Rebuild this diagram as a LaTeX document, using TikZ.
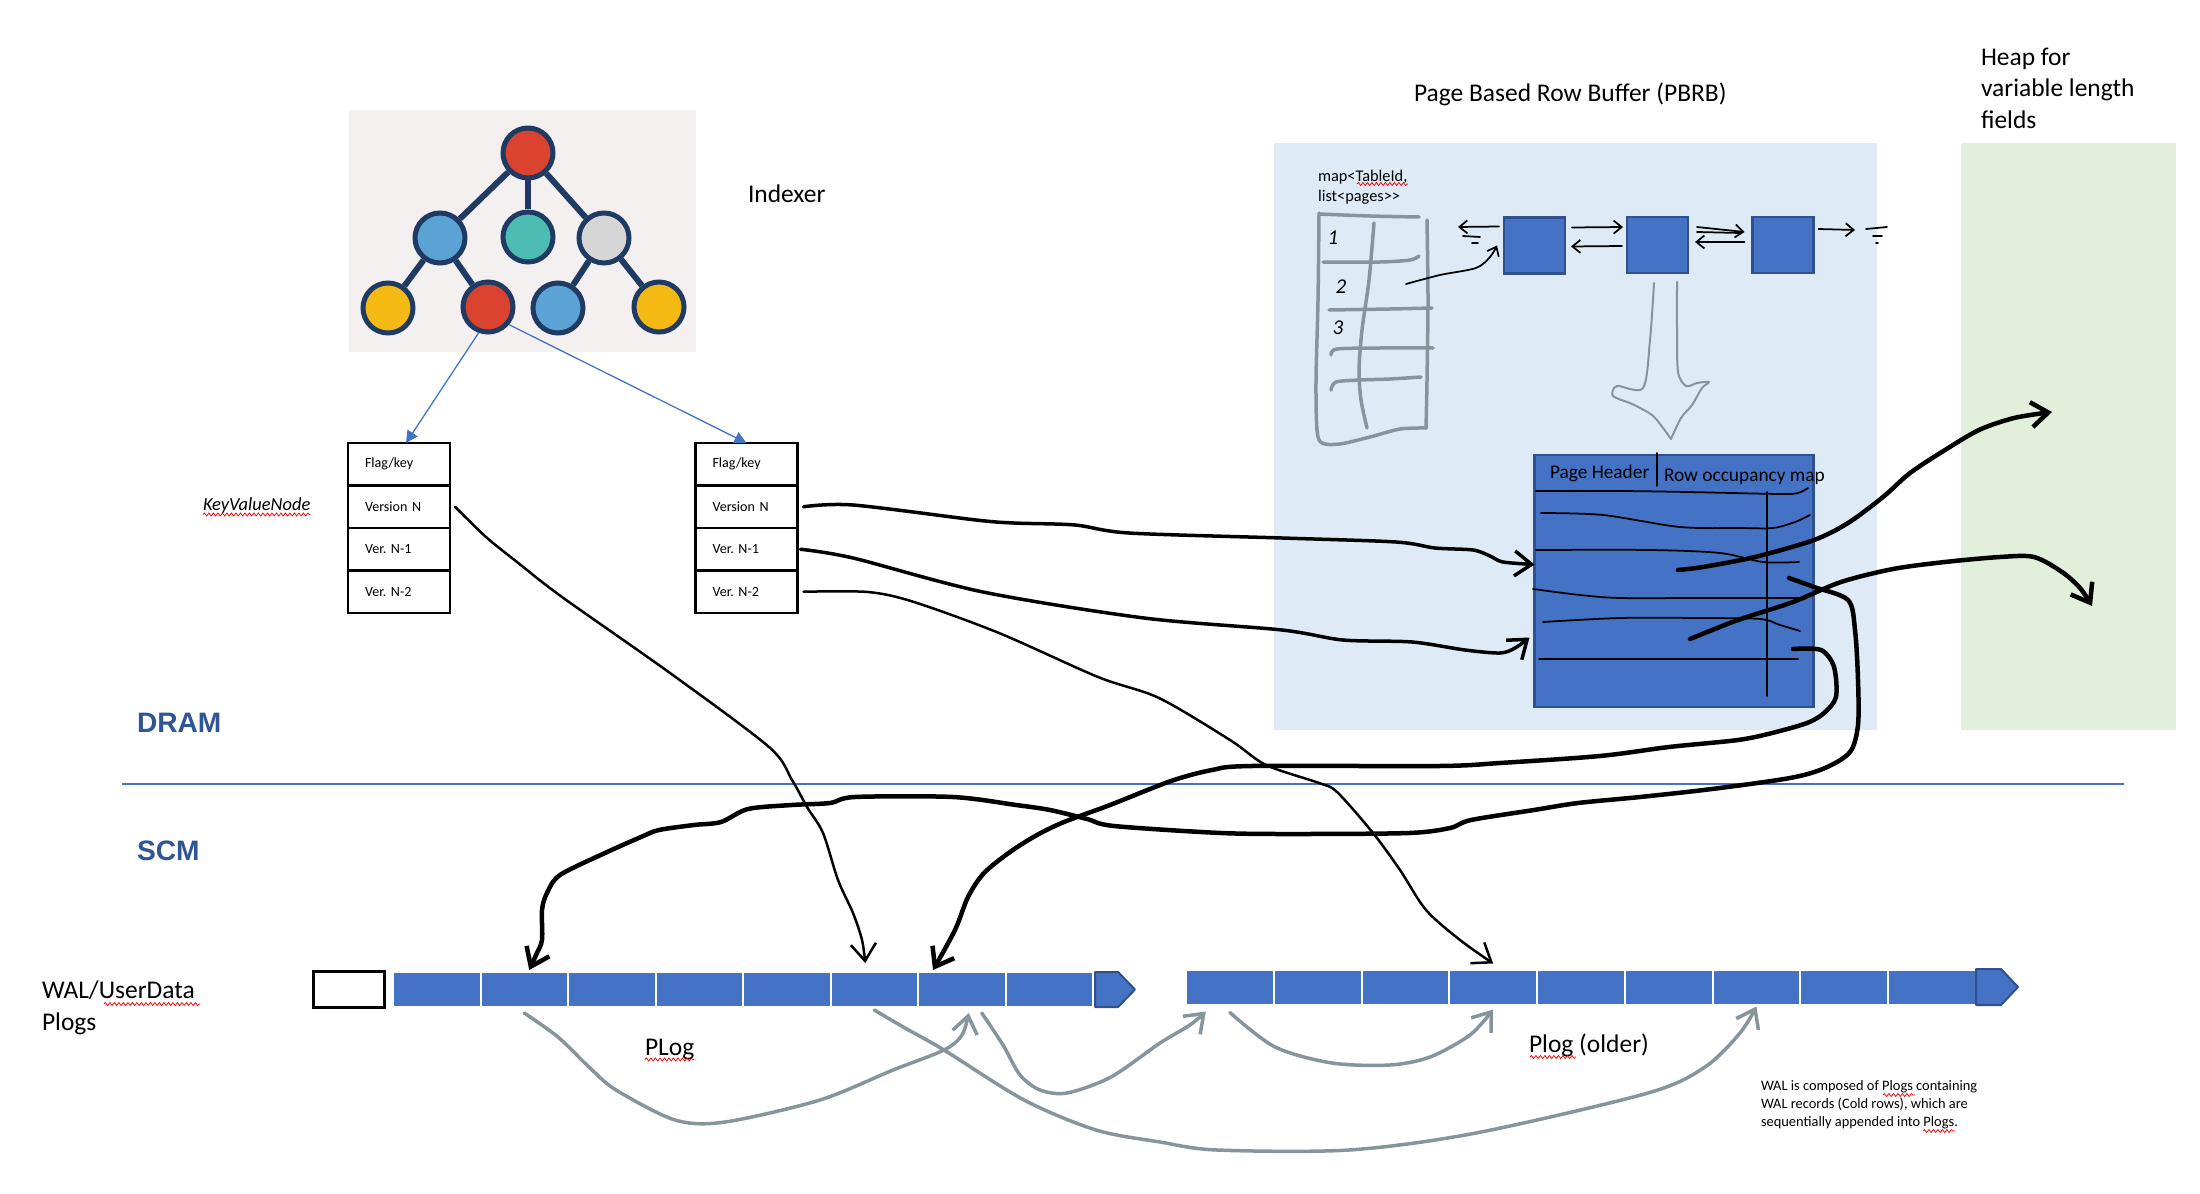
\documentclass[tikz,border=0pt]{standalone}
\usepackage{fontspec}
\setmainfont{Carlito}
\newfontfamily\bandsans{Liberation Sans}
\usetikzlibrary{arrows.meta,positioning,calc,decorations.pathmorphing}
\frenchspacing

\definecolor{cellblue}{HTML}{4472C4}
\definecolor{edgeblue}{HTML}{2F528F}
\definecolor{bandblue}{HTML}{2F5597}
\definecolor{pbrbbg}{HTML}{DEEBF7}
\definecolor{heapbg}{HTML}{E2EFDA}
\definecolor{treebg}{HTML}{F3F0EF}
\definecolor{treenavy}{HTML}{1F3B63}
\definecolor{treered}{HTML}{D9432F}
\definecolor{treeblue}{HTML}{5BA3D5}
\definecolor{treeteal}{HTML}{4DBDB3}
\definecolor{treegray}{HTML}{D6D6D6}
\definecolor{treeyellow}{HTML}{F5B914}
\definecolor{pengray}{HTML}{86959C}

\newcommand\bigfont{\fontsize{14.5}{17.9}\selectfont}
\newcommand\kvfont{\fontsize{8}{9.6}\selectfont}
\newcommand\notefont{\fontsize{8.2}{10.25}\selectfont}
\newcommand\mapfont{\fontsize{9.3}{11.4}\selectfont}
\newcommand\pagefont{\fontsize{11}{13}\selectfont}
\newcommand\bandfont{\bandsans\bfseries\fontsize{16}{19}\selectfont}

\tikzset{
  region/.style={inner sep=0,outer sep=0},
  txt/.style={inner sep=0,outer sep=0},
  tnode/.style={circle,draw=treenavy,line width=1mm,minimum size=10mm,inner sep=0},
  tedge/.style={treenavy,line width=1.2mm},
  idxptr/.style={cellblue,line width=0.26mm,-{Triangle[length=2.4mm,width=2.4mm]}},
  kvrow/.style={draw,line width=0.5mm,outer sep=0,minimum height=8.5mm,text width=13.6mm,inner xsep=3.4mm,align=left,font=\kvfont},
  cell/.style={fill=cellblue,draw=white,line width=0.4mm,inner sep=0,outer sep=0,minimum height=7mm},
  pagebox/.style={fill=cellblue,draw=edgeblue,line width=0.5mm,inner sep=0,outer sep=0},
  chevron/.style={fill=cellblue,draw=edgeblue,line width=0.4mm,line join=round},
  ink/.style={line width=0.9mm,line cap=round,line join=round},
  inkmid/.style={line width=0.7mm,line cap=round,line join=round},
  inkthin/.style={line width=0.5mm,line cap=round,line join=round},
  pen/.style={line width=0.35mm,line cap=round,line join=round},
  pencil/.style={pengray,line width=0.7mm,line cap=round,line join=round},
  barb/.style={-{Straight Barb[length=3.4mm,width=5mm]}},
  smallbarb/.style={-{Straight Barb[length=1.6mm,width=2.6mm]}},
  divider/.style={cellblue,line width=0.3mm},
  spell/.style={red,line width=0.15mm,decorate,decoration={snake,amplitude=0.3mm,segment length=0.9mm}},
}

\begin{document}
\begin{tikzpicture}[x=0.2mm,y=-0.2mm]
  \useasboundingbox (0,0) rectangle (2200,1194);

  % backgrounds
  \node[region,fill=pbrbbg,minimum width=120.6mm,minimum height=117.4mm] (pbrb) at (1575.5,436.5) {};
  \node[region,fill=heapbg,minimum width=43mm,minimum height=117.4mm] (heap) at (2068.5,436.5) {};
  \node[region,fill=treebg,minimum width=69.4mm,minimum height=48.4mm] (treepic) at (522.5,231) {};

  \coordinate (dl) at (122,784);
  \coordinate (dr) at (2124,784);
  \draw[divider] (dl) -- (dr);

  % indexer tree
  \node[tnode,fill=treered] (root) at (528,153) {};
  \node[tnode,fill=treeblue] (nA) at (440,238) {};
  \node[tnode,fill=treeteal] (nB) at (528,237) {};
  \node[tnode,fill=treegray] (nC) at (604,238) {};
  \node[tnode,fill=treeyellow] (lA) at (388,308) {};
  \node[tnode,fill=treered] (lB) at (488,307) {};
  \node[tnode,fill=treeblue] (lC) at (558,308) {};
  \node[tnode,fill=treeyellow] (lD) at (659,307) {};
  \foreach \a/\b in {root/nA,root/nB,root/nC,nA/lA,nA/lB,nC/lC,nC/lD}
    \draw[tedge] (\a) -- (\b);

  % key value nodes
  \foreach \t [count=\i from 0] in {Flag/key,Version N,Ver. N-1,Ver. N-2} {
    \node[kvrow] (kv1-\i) at (399,{464.25+42.5*\i}) {\t};
    \node[kvrow] (kv2-\i) at (746.5,{464.25+42.5*\i}) {\t};
  }
  \draw[idxptr] (lB.250) -- ([xshift=1.4mm]kv1-0.north);
  \draw[idxptr] (lB.-40) -- (kv2-0.north);

  % labels
  \node[txt,font=\bigfont,anchor=base west] (indexer) at (748,203) {Indexer};
  \node[txt,font=\fontsize{10.5}{12}\selectfont\itshape,anchor=base west] (kvlabel) at (203,510) {KeyValueNode};
  \draw[spell] ([yshift=-0.9mm]kvlabel.base west) -- ([yshift=-0.9mm]kvlabel.base east);
  \node[txt,font=\bigfont,anchor=base west] (pbrbtitle) at (1414,102) {Page Based Row Buffer (PBRB)};
  \node[txt,font=\bigfont,anchor=west,align=left] (heaptitle) at (1981,88) {Heap for\\variable length\\fields};
  \node[txt,font=\bandfont,text=bandblue,anchor=base west] (dram) at (137,732) {DRAM};
  \node[txt,font=\bandfont,text=bandblue,anchor=base west] (scm) at (137,860) {SCM};
  \node[txt,font=\bigfont,anchor=west,align=left] (wallabel) at (42,1008) {WAL/UserData\\Plogs};
  \draw[spell] (104,1004) -- (200,1004);
  \node[txt,font=\bigfont,anchor=base west] (plogA) at (645,1055) {PLog};
  \draw[spell] ([yshift=-0.9mm]plogA.base west) -- ([yshift=-0.9mm]plogA.base east);
  \node[txt,font=\bigfont,anchor=base west] (plogB) at (1529,1052) {Plog (older)};
  \draw[spell] (1530,1057) -- (1576,1057);
  \node[txt,font=\notefont,anchor=west,align=left] (note) at (1761,1105)
    {WAL is composed of Plogs containing\\WAL records (Cold rows), which are\\sequentially appended into Plogs.};
  \draw[spell] (1883,1095) -- (1915,1095);
  \draw[spell] (1923,1131) -- (1955,1131);

  % plogs
  \node[draw,line width=0.6mm,minimum width=14.2mm,minimum height=7.2mm,inner sep=0] (walhead) at (348.5,989) {};
  \foreach \i in {1,...,8}
    \node[cell,minimum width=17.5mm] (pa\i) at ({393+87.5*(\i-0.5)},989.5) {};
  \foreach \i in {1,...,9}
    \node[cell,minimum width=17.55mm] (pb\i) at ({1186+87.75*(\i-0.5)},987) {};
  \filldraw[chevron] (1095,972) -- (1118,972) -- (1135,989.5) -- (1118,1007) -- (1095,1007) -- cycle;
  \filldraw[chevron] (1976,969) -- (2001,969) -- (2018,987) -- (2001,1005) -- (1976,1005) -- cycle;

  % PBRB: map of page lists
  \node[txt,font=\mapfont,anchor=west,align=left] (maplabel) at (1318,187) {map<TableId,\\list<pages>{}>};
  \draw[spell] (1357,184) -- (1408,184);
  \draw[pencil] plot[smooth] coordinates {(1419,217) (1370,216) (1319,214)};
  \draw[pencil] plot[smooth] coordinates {(1319,213) (1318,300) (1316,380) (1317,430) (1322,443) (1340,444) (1370,437) (1400,429) (1426,428)};
  \draw[pencil] plot[smooth] coordinates {(1427,220) (1428,300) (1427,380) (1426,428)};
  \draw[pencil] plot[smooth] coordinates {(1374,223) (1369,280) (1362,330) (1359,370) (1361,400) (1367,428)};
  \draw[pencil] plot[smooth] coordinates {(1323,262) (1380,262) (1410,260) (1419,256)};
  \draw[pencil] plot[smooth] coordinates {(1329,310) (1390,309) (1432,308)};
  \draw[pencil] plot[smooth] coordinates {(1331,355) (1337,349) (1380,348) (1433,348)};
  \draw[pencil] plot[smooth] coordinates {(1331,390) (1336,382) (1360,380) (1390,379) (1421,377)};
  \node[txt,font=\fontsize{12}{14}\selectfont\itshape] (row1) at (1333,238) {1};
  \node[txt,font=\fontsize{12}{14}\selectfont\itshape] (row2) at (1341,287) {2};
  \node[txt,font=\fontsize{12}{14}\selectfont\itshape] (row3) at (1338,328) {3};

  \node[pagebox,minimum width=12.2mm,minimum height=11.2mm] (pg1) at (1534.5,245.5) {};
  \node[pagebox,minimum width=12.2mm,minimum height=11.2mm] (pg2) at (1657.5,245) {};
  \node[pagebox,minimum width=12.2mm,minimum height=11.2mm] (pg3) at (1783,245) {};

  \coordinate (tabRow2) at (1406,284);
  \coordinate (nilL) at (1458,227);
  \coordinate (nilR) at (1855,230);
  \draw[pen,smallbarb] plot[smooth] coordinates {(tabRow2) (1440,275) (1476,268) (1490,257) ([xshift=-1.4mm]pg1.west)};
  \draw[pen,smallbarb] ([xshift=-1mm,yshift=3.8mm]pg1.west) -- (nilL);
  \draw[pen] (1463,236) -- (1480,237) (1472,243) -- (1478,243);
  \draw[pen,smallbarb] ([xshift=1.4mm,yshift=3.6mm]pg1.east) -- ([xshift=-0.8mm,yshift=3.6mm]pg2.west);
  \draw[pen,smallbarb] ([xshift=-1mm,yshift=-0.2mm]pg2.west) -- ([xshift=1.2mm,yshift=-0.2mm]pg1.east);
  \draw[pen,smallbarb] ([xshift=1.8mm,yshift=3.6mm]pg2.east) -- ([xshift=-1.6mm,yshift=2.6mm]pg3.west);
  \draw[pen] ([xshift=1.8mm,yshift=2.6mm]pg2.east) -- ([xshift=-2.4mm,yshift=2.4mm]pg3.west);
  \draw[pen,smallbarb] ([xshift=-1.6mm,yshift=0.6mm]pg3.west) -- ([xshift=1.4mm,yshift=0.6mm]pg2.east);
  \draw[pen,smallbarb] ([xshift=1mm,yshift=3.2mm]pg3.east) -- (nilR);
  \draw[pen] (1866,229) -- (1887,227) (1873,236) -- (1882,236) (1876,243) -- (1878,243);

  % grey hand drawn arrow down to the page
  \draw[pencil,line width=0.4mm] plot[smooth] coordinates {(1654,283) (1650,340) (1643,388) (1617,386) (1613,396) (1632,404) (1652,415) (1663,428) (1671,439)};
  \draw[pencil,line width=0.4mm] plot[smooth] coordinates {(1671,439) (1681,418) (1692,405) (1702,388) (1709,382) (1697,383) (1686,386) (1678,372) (1677,330) (1677,282)};

  % the page
  \node[pagebox,minimum width=55.8mm,minimum height=50.4mm] (page) at (1674,581) {};
  \node[txt,font=\pagefont,anchor=base west] (pghdr) at (1550,478) {Page Header};
  \node[txt,font=\pagefont,anchor=base west] (occmap) at (1664,481) {Row occupancy map};
  \draw[pen] (1657,453) -- (1657,486);
  \draw[pen] plot[smooth] coordinates {(1536,491) (1620,491) (1687,492) (1780,494) (1798,493) (1808,488)};
  \draw[pen] plot[smooth] coordinates {(1541,513) (1603,515) (1680,527) (1740,528) (1773,528) (1795,522) (1810,515)};
  \draw[pen] plot[smooth] coordinates {(1536,550) (1650,550) (1720,553) (1763,562) (1799,562)};
  \draw[pen] plot[smooth] coordinates {(1533,589) (1580,595) (1620,598) (1700,598) (1799,598)};
  \draw[pen] plot[smooth] coordinates {(1543,622) (1620,618) (1700,618) (1760,619) (1780,625) (1800,631)};
  \draw[pen] (1539,659) -- (1798,659);
  \draw[pen] (1767,492) -- (1767,696);

  % pointers from the version chains
  \coordinate (dFrom) at ([xshift=1mm]kv1-1.east);
  \coordinate (dTo) at ([xshift=-1.8mm,yshift=1.8mm]pa6.north);
  \draw[inkthin,barb] plot[smooth] coordinates {(dFrom) (486,537) (517,562) (562,597) (670,673) (769,747) (792,780) (807,807) (823,833) (838,880) (853,913) (862,940) (dTo)};

  \coordinate (eFrom) at ([xshift=1.2mm]kv2-1.east);
  \coordinate (eTo) at ([yshift=3.3mm]page.west);
  \draw[inkmid,barb] plot[smooth] coordinates {(eFrom) (853,505) (976,520) (1014,523) (1075,525) (1129,533) (1282,538) (1396,542) (1435,548) (1473,550) (1490,556) (1503,562) (eTo)};

  \coordinate (fFrom) at ([xshift=0.6mm]kv2-2.east);
  \coordinate (fTo) at ([xshift=-1mm,yshift=-11.3mm]page.west);
  \draw[inkmid,barb] plot[smooth] coordinates {(fFrom) (853,558) (983,592) (1144,618) (1282,630) (1343,640) (1412,642) (1465,650) (1500,653) (1515,648) (fTo)};

  \coordinate (gFrom) at ([xshift=1.2mm]kv2-3.east);
  \coordinate (gTo) at ([yshift=1.2mm]pb4.north);
  \draw[inkthin,barb] plot[smooth] coordinates {(gFrom) (868,592) (914,602) (999,633) (1098,677) (1159,698) (1230,740) (1266,765) (1319,783) (1337,792) (1373,833) (1400,870) (1426,910) (1460,940) (gTo)};

  % pointers from the page rows
  \coordinate (rowA) at (1678,570);
  \coordinate (heapA) at (2052,412);
  \draw[ink,barb] plot[smooth] coordinates {(rowA) (1703,567) (1755,557) (1814,540) (1848,523) (1883,497) (1910,473) (1945,450) (1979,430) (2014,418) (heapA)};

  \coordinate (rowD) at (1690,639);
  \coordinate (heapB) at (2092,606);
  \draw[ink,barb] plot[smooth] coordinates {(rowD) (1738,620) (1793,602) (1841,582) (1893,569) (1945,562) (2000,557) (2034,557) (2062,572) (2080,588) (heapB)};

  \coordinate (rowB) at (1789,578);
  \coordinate (pa2top) at ([xshift=1mm,yshift=0.4mm]pa2.north);
  \draw[ink,barb] plot[smooth] coordinates {(rowB) (1814,587) (1848,600) (1855,630) (1858,680) (1858,725) (1850,752) (1825,768) (1790,778) (1712,789) (1640,797) (1578,803) (1534,810) (1471,820) (1450,828) (1409,833) (1300,834) (1221,833) (1114,826) (1087,819) (1050,810) (1016,805) (953,797) (855,797) (830,803) (792,805) (748,809) (721,822) (694,825) (659,830) (641,837) (605,853) (560,875) (547,893) (542,910) (542,940) (536,955) (pa2top)};

  \coordinate (rowC) at (1793,649);
  \coordinate (pa7top) at ([xshift=3mm,yshift=0.4mm]pa7.north west);
  \draw[ink,barb] plot[smooth] coordinates {(rowC) (1821,650) (1834,667) (1836,697) (1824,713) (1807,723) (1772,733) (1738,740) (1669,747) (1600,756) (1500,763) (1439,766) (1252,766) (1212,770) (1171,781) (1110,805) (1064,822) (1037,835) (1010,852) (984,873) (968,897) (955,930) (pa7top)};

  % grey links between WAL records
  \coordinate (g1From) at ([yshift=-1.2mm]pa2.south);
  \coordinate (g1To) at ([xshift=1.4mm,yshift=-1.2mm]pa7.south);
  \draw[pencil,barb] plot[smooth] coordinates {(g1From) (558,1037) (590,1068) (616,1090) (675,1120) (725,1122) (820,1100) (893,1070) (944,1050) (962,1035) (g1To)};

  \coordinate (g2From) at ([yshift=-0.6mm]pa6.south);
  \coordinate (g2To) at ([yshift=-0.4mm]pb7.south);
  \draw[pencil,barb] plot[smooth] coordinates {(g2From) (905,1028) (944,1050) (1024,1100) (1096,1130) (1160,1142) (1217,1150) (1349,1150) (1476,1133) (1648,1093) (1705,1067) (1740,1033) (g2To)};

  \coordinate (g3From) at ([xshift=4mm,yshift=-1.2mm]pa7.south);
  \coordinate (g3To) at ([xshift=-4.8mm,yshift=-1.4mm]pb1.south);
  \draw[pencil,barb] plot[smooth] coordinates {(g3From) (1003,1045) (1020,1075) (1040,1090) (1067,1093) (1111,1077) (1160,1043) (1190,1025) (g3To)};

  \coordinate (g4From) at ([yshift=-1.6mm]pb1.south);
  \coordinate (g4To) at ([yshift=-1mm]pb4.south);
  \draw[pencil,barb] plot[smooth] coordinates {(g4From) (1275,1047) (1332,1063) (1390,1065) (1430,1057) (1470,1035) (g4To)};
\end{tikzpicture}
\end{document}
